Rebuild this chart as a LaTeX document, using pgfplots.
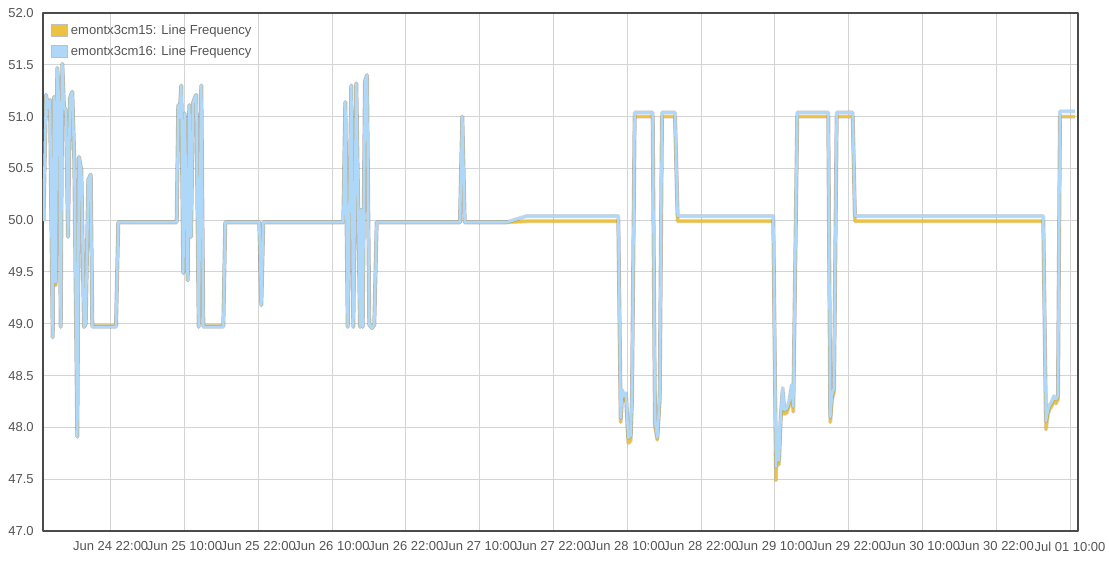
\documentclass[border=0pt]{standalone}
\usepackage{pgfplots}
\pgfplotsset{compat=1.18}
\usepackage{pgfplotstable}
\usepackage{fontspec}
\setmainfont{Liberation Sans}

\definecolor{flotorange}{HTML}{EDC240}
\definecolor{flotblue}{HTML}{AFD8F8}
\definecolor{framegray}{HTML}{4A4A4A}
\definecolor{gridgray}{HTML}{D4D4D4}
\definecolor{labelgray}{HTML}{545454}

% hours since Jun 24 00:00, line frequency in Hz
\pgfplotstableread{
h v
11.08 50.00
11.49 51.21
11.81 51.08
12.14 51.16
12.58 48.87
12.79 51.19
13.07 49.37
13.33 51.47
13.65 51.08
13.88 48.97
14.14 51.51
14.41 51.09
14.74 51.06
15.07 49.84
15.39 51.18
15.76 51.24
16.09 50.58
16.58 47.91
16.85 50.61
17.23 50.48
17.67 48.97
17.94 49.00
18.37 50.39
18.76 50.44
19.02 48.98
22.87 48.98
23.24 49.98
32.74 49.98
33.00 51.11
33.16 50.99
33.49 51.30
33.81 49.49
34.04 51.03
34.53 49.42
34.79 51.11
35.07 49.84
35.39 51.13
35.67 51.18
35.93 51.21
36.32 48.97
36.74 51.30
37.07 48.98
40.32 48.98
40.64 49.98
46.17 49.98
46.50 49.18
46.82 49.98
59.83 49.98
60.16 51.14
60.55 48.97
61.13 51.30
61.46 48.97
61.94 51.32
62.55 48.97
62.71 50.10
62.98 48.97
63.36 51.34
63.68 51.40
64.06 48.99
64.50 48.96
64.87 48.99
65.26 49.98
78.80 49.98
79.18 51.00
79.57 49.98
86.40 49.98
89.65 49.99
104.55 49.99
104.94 48.05
105.20 48.32
105.48 48.26
105.80 48.29
106.17 47.85
106.56 47.87
106.77 48.25
107.21 51.00
110.14 51.00
110.51 48.02
110.89 47.88
111.28 48.26
111.65 51.00
113.76 51.00
114.20 49.99
129.75 49.99
130.19 47.49
130.40 47.96
130.67 47.64
130.95 48.06
131.28 48.34
131.54 48.13
131.93 48.14
132.35 48.21
132.74 48.37
133.00 48.15
133.65 51.00
138.69 51.00
139.02 48.05
139.29 48.27
139.62 48.34
140.06 51.00
142.66 51.00
143.03 49.99
173.65 49.99
174.09 47.98
174.41 48.13
174.74 48.18
175.07 48.21
175.39 48.26
175.72 48.23
176.04 48.27
176.37 51.00
178.80 51.00
}\cmfifteen

\pgfplotstableread{
h v
11.08 49.99
11.49 51.21
11.81 51.08
12.14 51.16
12.58 48.87
12.79 51.19
13.07 49.40
13.33 51.47
13.65 51.08
13.88 48.97
14.14 51.51
14.41 51.09
14.74 51.06
15.07 49.84
15.39 51.18
15.76 51.24
16.09 50.58
16.58 47.91
16.85 50.61
17.23 50.48
17.67 48.97
17.94 49.00
18.37 50.39
18.76 50.44
19.02 48.97
22.87 48.97
23.24 49.98
32.74 49.98
33.00 51.11
33.16 50.99
33.49 51.30
33.81 49.49
34.04 51.03
34.53 49.42
34.79 51.11
35.07 49.84
35.39 51.13
35.67 51.18
35.93 51.21
36.32 48.97
36.74 51.30
37.07 48.97
40.32 48.97
40.64 49.98
46.17 49.98
46.50 49.18
46.82 49.98
59.83 49.98
60.16 51.14
60.55 48.97
61.13 51.30
61.46 48.97
61.94 51.32
62.55 48.97
62.71 50.10
62.98 48.97
63.36 51.34
63.68 51.40
64.06 48.99
64.50 48.96
64.87 48.99
65.26 49.98
78.80 49.98
79.18 51.00
79.57 49.98
86.40 49.98
89.65 50.04
104.55 50.04
104.94 48.09
105.20 48.36
105.48 48.30
105.80 48.33
106.17 47.90
106.56 47.92
106.77 48.30
107.21 51.04
110.14 51.04
110.51 48.06
110.89 47.90
111.28 48.30
111.65 51.04
113.76 51.04
114.20 50.04
129.75 50.04
130.19 47.62
130.40 48.00
130.67 47.68
130.95 48.10
131.28 48.38
131.54 48.17
131.93 48.18
132.35 48.25
132.74 48.41
133.00 48.20
133.65 51.04
138.69 51.04
139.02 48.10
139.29 48.31
139.62 48.38
140.06 51.04
142.66 51.04
143.03 50.04
173.65 50.04
174.09 48.06
174.41 48.17
174.74 48.22
175.07 48.25
175.39 48.30
175.72 48.27
176.04 48.31
176.37 51.05
178.80 51.05
}\cmsixteen

\begin{document}
\begin{tikzpicture}
\begin{axis}[
    scale only axis,
    width=776.25pt, height=388.5pt,
    xmin=11, xmax=179.3,
    ymin=47, ymax=52,
    xtick={22,34,46,58,70,82,94,106,118,130,142,154,166,178},
    xticklabels={Jun 24 22:00,Jun 25 10:00,Jun 25 22:00,Jun 26 10:00,Jun 26 22:00,Jun 27 10:00,Jun 27 22:00,Jun 28 10:00,Jun 28 22:00,Jun 29 10:00,Jun 29 22:00,Jun 30 10:00,Jun 30 22:00,Jul 01 10:00},
    ytick={47,47.5,...,52},
    yticklabel style={/pgf/number format/fixed, /pgf/number format/fixed zerofill,
        /pgf/number format/precision=1, /pgf/number format/assume math mode=true,
        xshift=-3.5pt},
    tick label style={font=\fontsize{9.75}{11}\selectfont, text=labelgray},
    xticklabel style={yshift=-4.5pt},
    major tick length=0pt,
    grid=major,
    major grid style={gridgray, line width=0.75pt},
    axis line style={framegray, line width=1.6pt},
    legend image code/.code={\draw[#1, draw=black!25, line width=0.75pt] (0pt,-4.5pt) rectangle (12pt,4.5pt);},
    legend style={at={(0,1)}, anchor=north west, xshift=6pt, yshift=-6.5pt,
        draw=none, fill=none, inner sep=0pt, row sep=3.5pt,
        font=\fontsize{9.8}{11}\selectfont, text=labelgray,
        cells={anchor=west}},
    line join=round,
]
\addplot[forget plot, black, opacity=0.15, line width=3pt] table[x=h, y=v] {\cmfifteen};
\addplot[forget plot, flotorange, line width=2pt] table[x=h, y=v] {\cmfifteen};
\addplot[forget plot, black, opacity=0.15, line width=3pt] table[x=h, y=v] {\cmsixteen};
\addplot[forget plot, flotblue, line width=2pt] table[x=h, y=v] {\cmsixteen};
\addlegendimage{fill=flotorange}
\addlegendentry{emontx3cm15: Line Frequency}
\addlegendimage{fill=flotblue}
\addlegendentry{emontx3cm16: Line Frequency}
\end{axis}
\pgfresetboundingbox
\path ([shift={(-32.25pt,-24pt)}]current axis.south west) rectangle ([shift={(23.25pt,9.75pt)}]current axis.north east);
\end{tikzpicture}
\end{document}
